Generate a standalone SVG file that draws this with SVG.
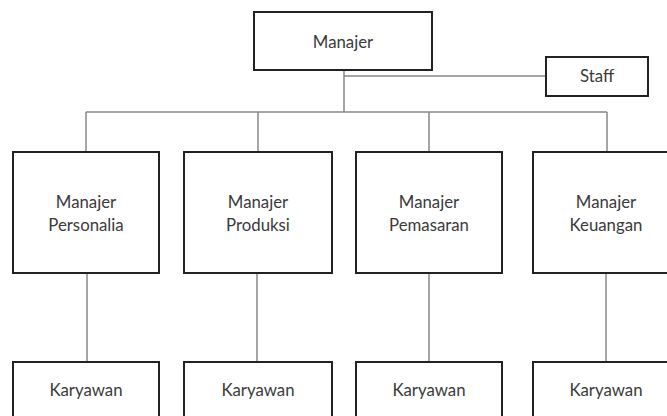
<svg xmlns="http://www.w3.org/2000/svg" width="667" height="416" viewBox="0 0 667 416">
<style>
.box{fill:#fff;stroke:#222;stroke-width:2}
.ln{fill:none;stroke:#888;stroke-width:1.5}
text{font-family:Lato,"Open Sans",sans-serif;font-size:16.8px;fill:#3a3a3a;text-anchor:middle}
</style>
<rect width="667" height="416" fill="#fff"/>
<g id="connectors">
<path class="ln" d="M344 70V112M344 76H546M86 112H607M86 112V152M258 112V152M429 112V152M607 112V152M87 273V362M257 273V362M429 273V362M606 273V362"/>
</g>
<g id="manajer"><rect class="box" x="254" y="12" width="178" height="58"/><text x="343" y="48">Manajer</text></g>
<g id="staff"><rect class="box" x="546" y="57" width="102" height="39"/><text x="597" y="82">Staff</text></g>
<g id="personalia"><rect class="box" x="13" y="152" width="146" height="121"/><text x="86" y="208">Manajer</text><text x="86" y="231">Personalia</text></g>
<g id="produksi"><rect class="box" x="184" y="152" width="148" height="121"/><text x="258" y="208">Manajer</text><text x="258" y="231">Produksi</text></g>
<g id="pemasaran"><rect class="box" x="356" y="152" width="146" height="121"/><text x="429" y="208">Manajer</text><text x="429" y="231">Pemasaran</text></g>
<g id="keuangan"><rect class="box" x="533" y="152" width="148" height="121"/><text x="606" y="208">Manajer</text><text x="606" y="231">Keuangan</text></g>
<g id="karyawan1"><rect class="box" x="13" y="362" width="146" height="70"/><text x="86" y="396">Karyawan</text></g>
<g id="karyawan2"><rect class="box" x="184" y="362" width="148" height="70"/><text x="258" y="396">Karyawan</text></g>
<g id="karyawan3"><rect class="box" x="356" y="362" width="146" height="70"/><text x="429" y="396">Karyawan</text></g>
<g id="karyawan4"><rect class="box" x="533" y="362" width="148" height="70"/><text x="606" y="396">Karyawan</text></g>
</svg>
